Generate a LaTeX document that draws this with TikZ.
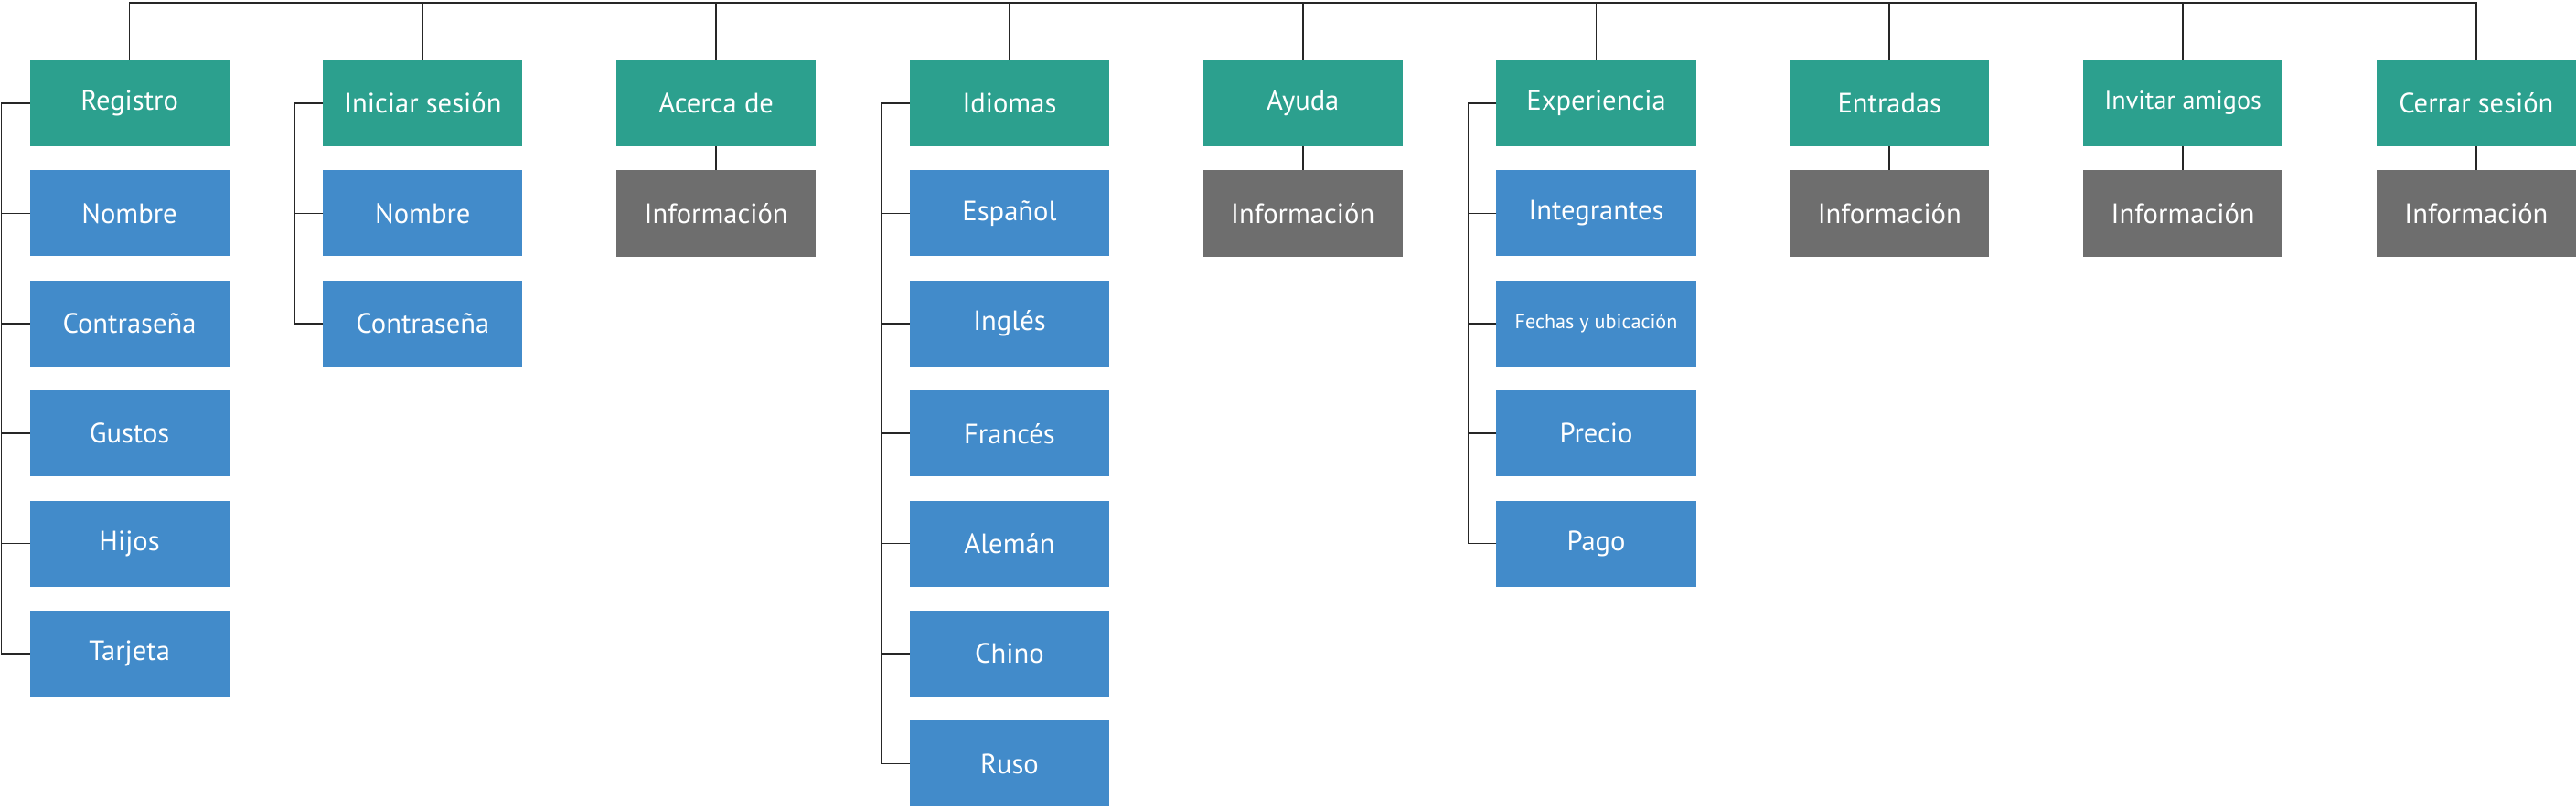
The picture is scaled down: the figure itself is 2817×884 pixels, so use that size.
\documentclass[tikz,border=0pt]{standalone}
\usepackage{fontspec}
\setmainfont{PT Sans}
\usetikzlibrary{positioning}
\definecolor{menuteal}{RGB}{44,160,142}
\definecolor{itemblue}{RGB}{66,139,202}
\definecolor{infogray}{RGB}{110,110,110}
\tikzset{
box/.style={
  rectangle,
  text=white,
  text centered,
  inner sep=0pt,
  outer sep=0pt,
  minimum width=2.18cm,
  minimum height=0.94cm,
  font=\fontsize{8.7}{10}\selectfont
 },
edge/.style={draw, line width=0.5pt, black!85}
}
\begin{document}
\begin{tikzpicture}[x=0.01cm, y=-0.01cm,
menu/.style={box, fill=menuteal},
item/.style={box, fill=itemblue},
info/.style={box, fill=infogray},
node distance=0.264cm and 1.026cm]

 \useasboundingbox (0,0) rectangle (2817,884);
 \coordinate (top) at (0,3);

 % top row
 \node[menu] (reg) at (141.6,113) {Registro};
 \node[menu, right=of reg] (ini) {Iniciar sesión};
 \node[menu, right=of ini] (acd) {Acerca de};
 \node[menu, right=of acd] (idi) {Idiomas};
 \node[menu, right=of idi] (ayu) {Ayuda};
 \node[menu, right=of ayu] (exp) {Experiencia};
 \node[menu, right=of exp] (ent) {Entradas};
 \node[menu, right=of ent] (inv) {\fontsize{8}{9}\selectfont Invitar amigos};
 \node[menu, right=of inv] (cer) {Cerrar sesión};

 \draw[edge] (reg.north) |- (top -| cer.north) -- (cer.north);
 \foreach \M in {ini,acd,idi,ayu,exp,ent,inv}
 {\draw[edge] (\M.north) -- (\M.north |- top);}

 % sub items
 \foreach \T [count=\i] in {Nombre,Contraseña,Gustos,Hijos,Tarjeta}
 {\path (reg) ++ (0,\i*120.4) node[item] (reg\i) {\T};}
 \foreach \T [count=\i] in {Nombre,Contraseña}
 {\path (ini) ++ (0,\i*120.4) node[item] (ini\i) {\T};}
 \foreach \T [count=\i] in {Español,Inglés,Francés,Alemán,Chino,Ruso}
 {\path (idi) ++ (0,\i*120.4) node[item] (idi\i) {\T};}
 \foreach \T [count=\i] in {Integrantes,{\fontsize{6.3}{7}\selectfont Fechas y ubicación},Precio,Pago}
 {\path (exp) ++ (0,\i*120.4) node[item] (exp\i) {\T};}

 \foreach \M/\N in {reg/5,ini/2,idi/6,exp/4}
 {\draw[edge] (\M.west) -- ++ (-31,0) coordinate (\M-bus) |- (\M\N.west);
  \foreach \i in {1,...,\N}
  {\draw[edge] (\M\i.west) -- (\M\i.west -| \M-bus);}}

 % info boxes
 \foreach \M in {acd,ayu,ent,inv,cer}
 {\node[info, below=of \M] (\M-info) {Información};
  \draw[edge] (\M) -- (\M-info);}
\end{tikzpicture}
\end{document}
